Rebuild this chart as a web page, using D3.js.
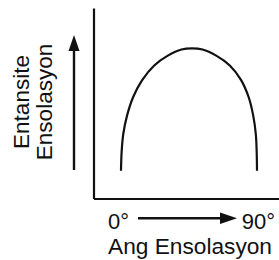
<!DOCTYPE html>
<html><head><meta charset="utf-8">
<script src="https://cdn.jsdelivr.net/npm/d3@7"></script>
<style>html,body{margin:0;padding:0;background:#fff;}svg{display:block;}</style>
</head><body>
<script>
// Data: angle (deg) vs relative intensity
const angles = [0, 0.4, 1.5, 4.0, 8.0, 14.0, 22.0, 31.0, 40.0, 47.0, 54.0, 63.0, 72.0, 79.5, 84.5, 87.5, 89.2, 89.8, 90];
const intensity = [0, 0.15, 0.30, 0.45, 0.60, 0.74, 0.86, 0.94, 0.99, 1.0, 0.99, 0.94, 0.86, 0.74, 0.60, 0.45, 0.30, 0.15, 0];
const xTickLabels = ["0°", "90°"];
const xAxisTitle = "Ang Ensolasyon";
const yAxisTitle = ["Entansite", "Ensolasyon"];

const W = 279, H = 260;
const svg = d3.select("body").append("svg").attr("width", W).attr("height", H);
const font = "'Liberation Sans', Arial, Helvetica, sans-serif";

const x = d3.scaleLinear().domain([0, 90]).range([121, 257]);
const y = d3.scaleLinear().domain([0, 1]).range([170.7, 48.3]);

// frame axes (no ticks)
const frameX = d3.scaleLinear().domain([0, 1]).range([93.5, 279]);
const frameY = d3.scaleLinear().domain([0, 1]).range([198.5, 8]);

svg.append("g").attr("transform", `translate(0,${frameY(0)})`)
  .call(d3.axisBottom(frameX).tickValues([]).tickSizeOuter(0))
  .call(g => g.select(".domain").attr("stroke", "#111").attr("stroke-width", 2.2));
svg.append("g").attr("transform", `translate(${frameX(0)},0)`)
  .call(d3.axisLeft(frameY).tickValues([]).tickSizeOuter(0))
  .call(g => g.select(".domain").attr("stroke", "#111").attr("stroke-width", 2.2));

// curve
const line = d3.line().x((d, i) => x(angles[i])).y((d, i) => y(intensity[i]))
  .curve(d3.curveCatmullRom.alpha(0.5));
svg.append("path").datum(angles).attr("d", line)
  .attr("fill", "none").attr("stroke", "#111").attr("stroke-width", 2.2);

// vertical arrow
svg.append("line").attr("x1", 74).attr("x2", 74).attr("y1", 170).attr("y2", 48)
  .attr("stroke", "#111").attr("stroke-width", 2.4);
svg.append("path").attr("d", "M74,35 L68.5,51 L79.5,51 Z").attr("fill", "#111");

// horizontal arrow
svg.append("line").attr("x1", 138).attr("x2", 224).attr("y1", 218.3).attr("y2", 218.3)
  .attr("stroke", "#111").attr("stroke-width", 2.4);
svg.append("path").attr("d", "M237,218.3 L220,212.5 L220,224.1 Z").attr("fill", "#111");

// tick labels
svg.append("text").attr("x", 108).attr("y", 229).attr("font-family", font).attr("font-size", 22)
  .attr("fill", "#111").text(xTickLabels[0]);
svg.append("text").attr("x", 275).attr("y", 229).attr("text-anchor", "end").attr("font-family", font)
  .attr("font-size", 22).attr("fill", "#111").text(xTickLabels[1]);

// x title
svg.append("text").attr("x", 190).attr("y", 254).attr("text-anchor", "middle").attr("font-family", font)
  .attr("font-size", 22).attr("textLength", 164).attr("lengthAdjust", "spacingAndGlyphs")
  .attr("fill", "#111").text(xAxisTitle);

// y title (rotated)
yAxisTitle.forEach((t, i) => {
  svg.append("text").attr("transform", `translate(${29 + i * 23},102) rotate(-90)`)
    .attr("text-anchor", "middle").attr("font-family", font).attr("font-size", 22.5)
    .attr("fill", "#111").text(t);
});
</script>
</body></html>
